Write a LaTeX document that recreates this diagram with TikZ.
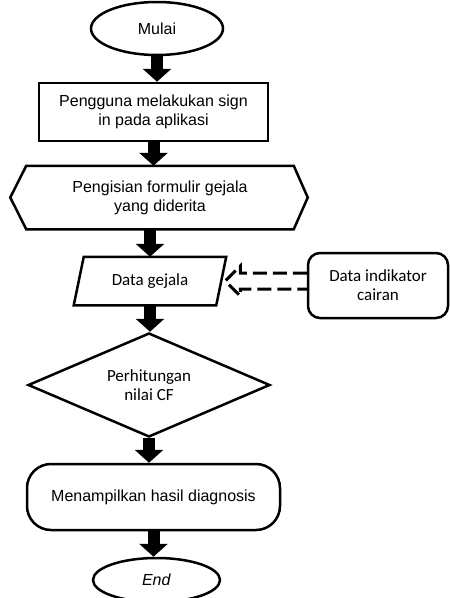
\documentclass[tikz,border=0pt]{standalone}
\usepackage{fontspec}
\setmainfont{Liberation Sans}
\newfontfamily\calibri{Carlito}
\usetikzlibrary{shapes.geometric,arrows.meta,positioning,calc}

\begin{document}
\begin{tikzpicture}[x=1pt, y=-1pt, line width=2.5pt,
    every node/.style={align=center, inner sep=0pt, font=\fontsize{16}{19}\selectfont},
    term/.style={ellipse, draw, minimum width=132pt, minimum height=53pt},
    procbox/.style={rectangle, draw, minimum width=229pt, minimum height=58pt},
    cal/.style={font=\calibri\fontsize{17}{19}\selectfont},
    flow/.style={line width=12pt, -{Triangle[width=28pt, length=13pt]}},
    feed/.style={line width=3pt, dash pattern=on 14pt off 6pt, line join=miter}]
    \useasboundingbox (0,0) rectangle (450,598);

    \node [term] (start) at (157,28.5) {Mulai};
    \node [procbox, below of=start, node distance=83.5pt, xshift=-3.5pt] (signin) {Pengguna melakukan sign\\in pada aplikasi};
    \node [below of=signin, node distance=85.5pt, xshift=6.5pt, minimum width=265pt, minimum height=61pt] (form) {Pengisian formulir gejala\\yang diderita};
    \node [cal, below of=form, node distance=83.5pt, xshift=-10pt, minimum width=140pt, minimum height=46pt] (data) {Data gejala};
    \node [cal, draw, rounded corners=12pt, right of=data, node distance=228pt, yshift=-4.5pt, minimum width=140pt, minimum height=65pt] (cairan) {Data indikator\\cairan};
    \node [cal, draw, diamond, aspect=2.33, below of=data, node distance=104pt, xshift=-1pt, minimum width=242pt, minimum height=104pt] (cf) {Perhitungan\\nilai CF};
    \node [draw, rounded corners=24pt, below of=cf, node distance=112pt, xshift=4.5pt, minimum width=253pt, minimum height=66pt] (hasil) {Menampilkan hasil diagnosis};
    \node [term, below of=hasil, node distance=83pt, xshift=3pt, minimum width=127pt, minimum height=44pt] (end) {\textit{End}};

    % hexagon and parallelogram outlines
    \draw ([xshift=-16pt]form.west) -- (form.north west) -- (form.north east) -- ([xshift=14pt]form.east) -- (form.south east) -- (form.south west) -- cycle;
    \draw ([xshift=-5pt]data.south west) -- ([xshift=5pt]data.north west) -- ([xshift=5pt]data.north east) -- ([xshift=-5pt]data.south east) -- cycle;

    \draw [flow] (start.south) -- (start.south |- signin.north);
    \draw [flow] (signin.south) -- (signin.south |- form.north);
    \draw [flow] (data.north |- form.south) -- (data.north);
    \draw [flow] (data.south) -- (data.south |- cf.north);
    \draw [flow] (cf.south) -- (cf.south |- hasil.north);
    \draw [flow] (hasil.south) -- (hasil.south |- end.north);

    % dashed outline arrow from the indicator data
    \coordinate (tip) at ([xshift=4pt]data.east);
    \draw [feed] ($(cairan.west |- tip)+(0,-8)$) -- ($(tip)+(15,-8)$) -- ($(tip)+(15,-15)$) -- (tip)
        -- ($(tip)+(15,15)$) -- ($(tip)+(15,8)$) -- ($(cairan.west |- tip)+(0,8)$);
\end{tikzpicture}
\end{document}
